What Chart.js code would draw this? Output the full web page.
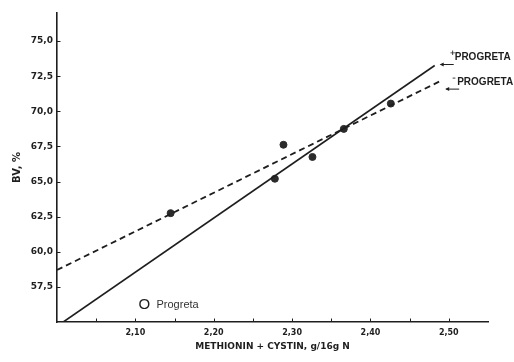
<!DOCTYPE html>
<html>
<head>
<meta charset="utf-8">
<script src="https://cdn.jsdelivr.net/npm/chart.js@4.4.1/dist/chart.umd.min.js"></script>
<style>
  html, body { margin: 0; padding: 0; background: #fff; }
  #wrap { width: 514px; height: 362px; }
</style>
</head>
<body>
<div id="wrap"><canvas id="bvChart" width="514" height="362"></canvas></div>
<script>
// ticks and their labels
const xTicks = [2.05, 2.10, 2.15, 2.20, 2.25, 2.30, 2.35, 2.40, 2.45, 2.50];
const xTickLabels = ['', '2,10', '', '2,20', '', '2,30', '', '2,40', '', '2,50'];
const yTicks = [57.5, 60.0, 62.5, 65.0, 67.5, 70.0, 72.5, 75.0];
const yTickLabels = ['57,5', '60,0', '62,5', '65,0', '67,5', '70,0', '72,5', '75,0'];

// regression lines (start / end)
const plusX = [2.008, 2.482];
const plusY = [55.0, 73.26];
const minusX = [2.000, 2.489];
const minusY = [58.7, 72.15];

// observed points
const obsX = [2.145, 2.278, 2.289, 2.326, 2.366, 2.426];
const obsY = [62.75, 65.2, 67.62, 66.75, 68.75, 70.55];

const lineNames = ['+PROGRETA', '-PROGRETA'];
const legendName = 'Progreta';

const ink = '#1e1e1e';

function toPoints(xs, ys) {
    return xs.map((x, i) => ({ x: x, y: ys[i] }));
}

// small tick marks pointing into the plot, plus the text notes
const decorations = {
    id: 'decorations',
    afterDraw(chart) {
        const { ctx, chartArea } = chart;
        const xs = chart.scales.x, ys = chart.scales.y;
        ctx.save();
        ctx.strokeStyle = ink;
        ctx.lineWidth = 1;
        xs.ticks.forEach(t => {
            const px = Math.round(xs.getPixelForValue(t.value)) + 0.5;
            ctx.beginPath();
            ctx.moveTo(px, chartArea.bottom);
            ctx.lineTo(px, chartArea.bottom - 3.5);
            ctx.stroke();
        });
        ys.ticks.forEach(t => {
            const py = Math.round(ys.getPixelForValue(t.value)) + 0.5;
            ctx.beginPath();
            ctx.moveTo(chartArea.left, py);
            ctx.lineTo(chartArea.left + 3.5, py);
            ctx.stroke();
        });

        // labels at the line ends
        const ends = [
            { x: xs.getPixelForValue(plusX[1]), y: ys.getPixelForValue(plusY[1]), dx: 15, dy: -8, ay: -1 },
            { x: xs.getPixelForValue(minusX[1]), y: ys.getPixelForValue(minusY[1]), dx: 12, dy: 1, ay: 8 }
        ];
        ends.forEach((e, i) => {
            const name = lineNames[i];
            const sign = name.charAt(0);
            const word = name.slice(1);
            const tx = e.x + e.dx;
            const ty = e.y + e.dy;
            ctx.fillStyle = ink;
            ctx.textBaseline = 'middle';
            ctx.font = 'bold 7px "DejaVu Sans"';
            ctx.fillText(sign === '-' ? '\u2013' : '+', tx, ty - 4);
            ctx.font = 'bold 10px "Liberation Sans"';
            ctx.fillText(word, tx + 5, ty);
            // little arrow pointing back at the line
            const ax = e.x + 5, ay = e.y + e.ay;
            ctx.beginPath();
            ctx.moveTo(ax + 14, ay);
            ctx.lineTo(ax + 1, ay);
            ctx.stroke();
            ctx.beginPath();
            ctx.moveTo(ax, ay);
            ctx.lineTo(ax + 4, ay - 2);
            ctx.lineTo(ax + 4, ay + 2);
            ctx.closePath();
            ctx.fill();
        });

        // legend note for the open symbol
        const lx = xs.getPixelForValue(2.104);
        const ly = ys.getPixelForValue(56.2);
        ctx.font = '15px "Liberation Sans"';
        ctx.textBaseline = 'middle';
        ctx.fillText('O', lx, ly);
        ctx.font = '11px "Liberation Sans"';
        ctx.fillStyle = '#333';
        ctx.fillText(legendName, lx + 18, ly);
        ctx.restore();
    }
};

new Chart(document.getElementById('bvChart'), {
    type: 'scatter',
    data: {
        datasets: [
            {
                label: lineNames[0],
                data: toPoints(plusX, plusY),
                showLine: true,
                borderColor: ink,
                borderWidth: 1.6,
                pointRadius: 0
            },
            {
                label: lineNames[1],
                data: toPoints(minusX, minusY),
                showLine: true,
                borderColor: ink,
                borderWidth: 1.8,
                borderDash: [6, 4],
                pointRadius: 0
            },
            {
                label: legendName,
                data: toPoints(obsX, obsY),
                pointRadius: 3.5,
                pointBackgroundColor: '#2b2b2b',
                pointBorderColor: '#2b2b2b',
                pointBorderWidth: 1
            }
        ]
    },
    options: {
        responsive: false,
        animation: false,
        devicePixelRatio: 1,
        layout: { padding: { left: 0, top: 13, right: 26, bottom: 0 } },
        plugins: {
            legend: { display: false },
            tooltip: { enabled: false }
        },
        scales: {
            x: {
                type: 'linear',
                min: 2.0,
                max: 2.55,
                afterBuildTicks: s => { s.ticks = xTicks.map(v => ({ value: v })); },
                afterFit: s => { s.height = 40; },
                grid: { display: true, drawOnChartArea: false, drawTicks: false },
                border: { display: true, color: ink, width: 1.6 },
                ticks: {
                    autoSkip: false,
                    maxRotation: 0,
                    padding: 6,
                    color: ink,
                    font: { family: 'DejaVu Sans', size: 8, weight: 'bold' },
                    callback: (v, i) => xTickLabels[i]
                },
                title: {
                    display: true,
                    text: 'METHIONIN + CYSTIN, g/16g N',
                    color: ink,
                    font: { family: 'DejaVu Sans', size: 9, weight: 'bold' },
                    padding: { top: 0, bottom: 10 }
                }
            },
            y: {
                type: 'linear',
                min: 55,
                max: 77,
                afterBuildTicks: s => { s.ticks = yTicks.map(v => ({ value: v })); },
                afterFit: s => { s.width = 57; },
                grid: { display: true, drawOnChartArea: false, drawTicks: false },
                border: { display: true, color: ink, width: 1.6 },
                ticks: {
                    padding: 4,
                    color: ink,
                    font: { family: 'DejaVu Sans', size: 9, weight: 'bold' },
                    callback: (v, i) => yTickLabels[i]
                },
                title: {
                    display: true,
                    text: 'BV, %',
                    color: ink,
                    font: { family: 'DejaVu Sans', size: 10, weight: 'bold' },
                    padding: { top: 11, bottom: 0 }
                }
            }
        }
    },
    plugins: [decorations]
});
</script>
</body>
</html>
